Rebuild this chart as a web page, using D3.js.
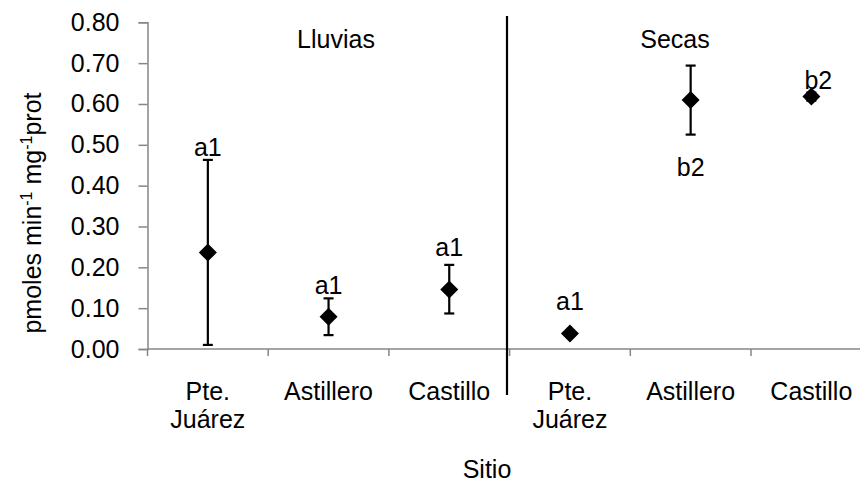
<!DOCTYPE html>
<html>
<head>
<meta charset="utf-8">
<script src="https://cdn.jsdelivr.net/npm/d3@7"></script>
<style>
  html, body { margin: 0; padding: 0; background: #fff; }
  svg { display: block; font-family: "Liberation Sans", Arial, sans-serif; }
</style>
</head>
<body>
<svg id="chart" width="860" height="486"></svg>
<script>
// Sites along the x axis (two seasons, three sites each)
const sites = ["Pte.|Juárez", "Astillero", "Castillo", "Pte.|Juárez", "Astillero", "Castillo"];
const seasons = ["Lluvias", "Secas"];
// Mean activity (pmoles min-1 mg-1 prot) and error bar limits
const means = [0.236, 0.079, 0.146, 0.038, 0.610, 0.618];
const lower = [0.010, 0.034, 0.087, 0.033, 0.525, 0.608];
const upper = [0.463, 0.124, 0.206, 0.043, 0.694, 0.628];
// Statistical group letters
const groups = ["a1", "a1", "a1", "a1", "b2", "b2"];
const yTicks = [0, 0.1, 0.2, 0.3, 0.4, 0.5, 0.6, 0.7, 0.8];

const svg = d3.select("#chart");
const fs = 25;
const left = 147.5, step = 120.7;
const x = d3.scaleBand().domain(d3.range(sites.length)).range([left, left + step * sites.length]);
const y = d3.scaleLinear().domain([0, 0.8]).range([349, 22.3]);
const axisColor = "#868686";

// Y axis
const yAxis = svg.append("g").attr("transform", `translate(${left},0)`)
  .call(d3.axisLeft(y).tickValues(yTicks).tickFormat(d3.format(".2f")).tickSize(9).tickPadding(19));
yAxis.select(".domain").attr("stroke", axisColor).attr("stroke-width", 1.5);
yAxis.selectAll(".tick line").attr("stroke", axisColor).attr("stroke-width", 1.5);
yAxis.selectAll(".tick text").attr("font-size", fs).attr("fill", "#000")
  .attr("font-family", "'Liberation Sans', Arial, sans-serif");

// X axis: baseline with tick marks between categories
const xBase = y(0);
svg.append("line").attr("x1", left).attr("x2", 860).attr("y1", xBase).attr("y2", xBase)
  .attr("stroke", axisColor).attr("stroke-width", 1.5);
svg.selectAll("line.xtick").data(d3.range(sites.length + 1)).join("line")
  .attr("class", "xtick")
  .attr("x1", i => left + i * x.step()).attr("x2", i => left + i * x.step())
  .attr("y1", xBase).attr("y2", xBase + 7)
  .attr("stroke", axisColor).attr("stroke-width", 1.5);

// Category labels (two lines where needed)
const cx = i => x(i) + x.bandwidth() / 2;
svg.selectAll("text.cat").data(sites).join("text")
  .attr("class", "cat")
  .attr("text-anchor", "middle").attr("font-size", fs)
  .each(function (d, i) {
    d.split("|").forEach((line, k) => {
      d3.select(this).append("tspan").attr("x", cx(i)).attr("y", 400 + k * 28).text(line);
    });
  });

// Season divider
svg.append("line").attr("x1", 507).attr("x2", 507).attr("y1", 16).attr("y2", 395)
  .attr("stroke", "#000").attr("stroke-width", 2.2);

// Season titles
svg.selectAll("text.season").data(seasons).join("text")
  .attr("class", "season").attr("text-anchor", "middle").attr("font-size", fs)
  .attr("x", (d, i) => i === 0 ? 336 : 675).attr("y", 48).text(d => d);

// Error bars
const cap = 5;
const eb = svg.append("g").attr("stroke", "#000").attr("stroke-width", 2.2);
means.forEach((m, i) => {
  const xc = cx(i);
  eb.append("line").attr("x1", xc).attr("x2", xc).attr("y1", y(lower[i])).attr("y2", y(upper[i]));
  [lower[i], upper[i]].forEach(v => eb.append("line")
    .attr("x1", xc - cap).attr("x2", xc + cap).attr("y1", y(v)).attr("y2", y(v)));
});

// Diamond markers
const r = 9;
svg.selectAll("path.pt").data(means).join("path")
  .attr("class", "pt")
  .attr("d", (d, i) => {
    const px = cx(i), py = y(d);
    return `M${px},${py - r}L${px + r},${py}L${px},${py + r}L${px - r},${py}Z`;
  })
  .attr("fill", "#000");

// Group letters: placed above the upper limit, or below the lower limit
const labelPlace = [
  { side: "above", gap: 13, dx: 0 },
  { side: "above", gap: 13, dx: 0 },
  { side: "above", gap: 18, dx: 0 },
  { side: "above", gap: 30, dx: 0 },
  { side: "below", gap: 32, dx: 0 },
  { side: "above", gap: 13, dx: 7 }
];
svg.selectAll("text.grp").data(groups).join("text")
  .attr("class", "grp").attr("text-anchor", "middle").attr("font-size", fs)
  .attr("dominant-baseline", "central")
  .attr("x", (d, i) => cx(i) + labelPlace[i].dx)
  .attr("y", (d, i) => labelPlace[i].side === "above"
    ? y(upper[i]) - labelPlace[i].gap
    : y(lower[i]) + labelPlace[i].gap)
  .text(d => d);

// Axis titles
const yt = svg.append("text").attr("font-size", fs).attr("text-anchor", "middle")
  .attr("transform", "translate(41,213) rotate(-90)");
yt.append("tspan").text("pmoles min");
yt.append("tspan").attr("font-size", 16).attr("dy", -9).text("-1");
yt.append("tspan").attr("dy", 9).text(" mg");
yt.append("tspan").attr("font-size", 16).attr("dy", -9).text("-1");
yt.append("tspan").attr("dy", 9).text("prot");

svg.append("text").attr("font-size", fs).attr("text-anchor", "middle")
  .attr("x", 487).attr("y", 478).text("Sitio");
</script>
</body>
</html>
